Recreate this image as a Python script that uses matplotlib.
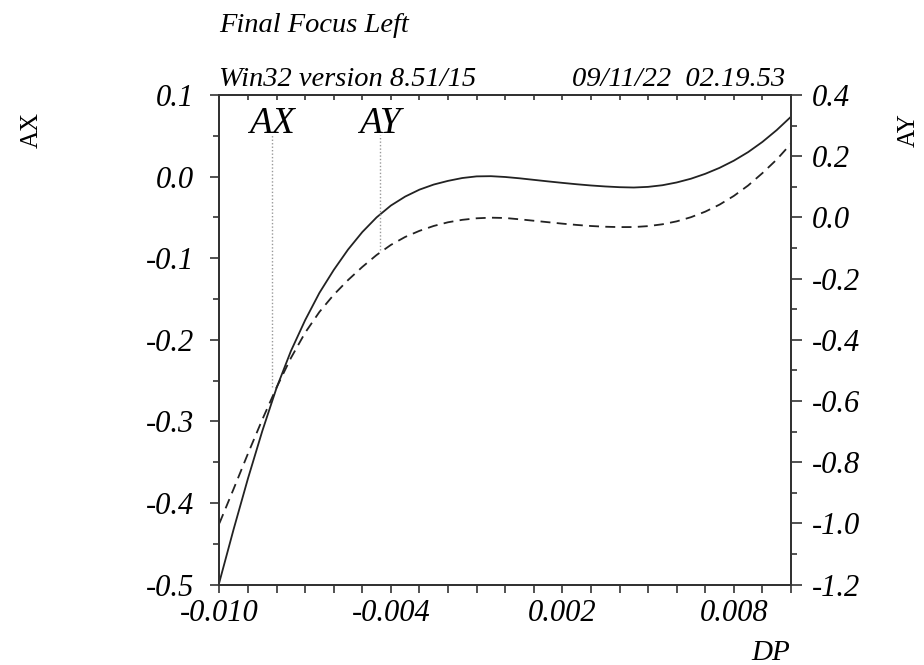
import numpy as np
import matplotlib
matplotlib.use("Agg")
import matplotlib.pyplot as plt
from matplotlib.ticker import FixedLocator, FixedFormatter
import matplotlib.transforms as mtransforms

plt.rcParams["font.family"] = ["Liberation Serif", "DejaVu Serif"]
plt.rcParams["axes.unicode_minus"] = False

# Momentum deviation grid
dp = [-0.0100, -0.0095, -0.0090, -0.0085, -0.0080, -0.0075, -0.0070, -0.0065,
      -0.0060, -0.0055, -0.0050, -0.0045, -0.0040, -0.0035, -0.0030, -0.0025,
      -0.0020, -0.0015, -0.0010, -0.0005, 0.0000, 0.0005, 0.0010, 0.0015,
      0.0020, 0.0025, 0.0030, 0.0035, 0.0040, 0.0045, 0.0050, 0.0055,
      0.0060, 0.0065, 0.0070, 0.0075, 0.0080, 0.0085, 0.0090, 0.0095, 0.0100]

# Horizontal alpha function (left axis)
ax_vals = [-0.497, -0.432, -0.370, -0.312, -0.259, -0.214, -0.176, -0.1425,
           -0.1145, -0.0895, -0.068, -0.050, -0.0355, -0.0245, -0.016, -0.00975,
           -0.00525, -0.00175, 0.00025, 0.0005, -0.0005, -0.0021, -0.0040, -0.0059,
           -0.0077, -0.0094, -0.0109, -0.0121, -0.0130, -0.0134, -0.0126, -0.0106,
           -0.0072, -0.0026, 0.0034, 0.0107, 0.0195, 0.0300, 0.0425, 0.0570, 0.0734]

# Vertical alpha function (right axis)
ay_vals = [-1.000, -0.887, -0.772, -0.661, -0.556, -0.460, -0.377, -0.309,
           -0.253, -0.205, -0.162, -0.123, -0.090, -0.064, -0.044, -0.028,
           -0.016, -0.008, -0.003, -0.001, -0.002, -0.0063, -0.0110, -0.0158,
           -0.0205, -0.0247, -0.0282, -0.0306, -0.0318, -0.0316, -0.0286, -0.0226,
           -0.013, 0.0006, 0.0187, 0.0417, 0.0701, 0.1042, 0.1447, 0.189, 0.241]

# Axis ticks and labels
x_ticks = [-0.010, -0.009, -0.008, -0.007, -0.006, -0.005, -0.004, -0.003,
           -0.002, -0.001, 0.000, 0.001, 0.002, 0.003, 0.004, 0.005,
           0.006, 0.007, 0.008, 0.009, 0.010]
x_labels = ["-0.010", "", "", "", "", "", "-0.004", "", "", "", "", "",
            "0.002", "", "", "", "", "", "0.008", "", ""]
left_ticks = [0.1, 0.0, -0.1, -0.2, -0.3, -0.4, -0.5]
left_labels = ["0.1", "0.0", "-0.1", "-0.2", "-0.3", "-0.4", "-0.5"]
left_minor = [0.05, -0.05, -0.15, -0.25, -0.35, -0.45]
right_ticks = [0.4, 0.2, 0.0, -0.2, -0.4, -0.6, -0.8, -1.0, -1.2]
right_labels = ["0.4", "0.2", "0.0", "-0.2", "-0.4", "-0.6", "-0.8", "-1.0", "-1.2"]
right_minor = [0.3, 0.1, -0.1, -0.3, -0.5, -0.7, -0.9, -1.1]

# Curve name markers: position in DP and the level where the marker meets its curve
marker_names = ["AX", "AY"]
marker_dp = [-0.00815, -0.00437]
marker_level = [-0.258, -0.107]

W, H = 924, 665
fig = plt.figure(figsize=(W / 100, H / 100), dpi=100)
L, R, T, B = 219.4, 791.0, 95.0, 584.5
ax = fig.add_axes([L / W, (H - B) / H, (R - L) / W, (B - T) / H])
ax2 = ax.twinx()

line_col = "#222222"
ax.plot(dp, ax_vals, color=line_col, lw=1.3, solid_joinstyle="round")
ax2.plot(dp, ay_vals, color=line_col, lw=1.3, dashes=(5.5, 3.5))

ax.set_xlim(-0.010, 0.010)
ax.set_ylim(-0.5, 0.1)
ax2.set_ylim(-1.2, 0.4)

for a in (ax, ax2):
    for s in a.spines.values():
        s.set_linewidth(1.4)
        s.set_color("#333333")

tick_font = dict(family="Liberation Serif", style="italic", size=22)

ax.xaxis.set_major_locator(FixedLocator(x_ticks))
ax.xaxis.set_major_formatter(FixedFormatter(x_labels))
ax.tick_params(axis="x", direction="out", length=5.5, width=1.2, pad=5,
               colors="#333333", labelcolor="black")
for t in ax.get_xticklabels():
    t.set_fontproperties(tick_font)

sec = ax.secondary_xaxis("top")
sec.xaxis.set_major_locator(FixedLocator(x_ticks))
sec.tick_params(axis="x", direction="in", length=3.6, width=1.2,
                labeltop=False, colors="#333333")
sec.spines["top"].set_linewidth(1.4)
sec.spines["top"].set_color("#333333")

ax.yaxis.set_major_locator(FixedLocator(left_ticks))
ax.yaxis.set_major_formatter(FixedFormatter(left_labels))
ax.yaxis.set_minor_locator(FixedLocator(left_minor))
ax.tick_params(axis="y", which="major", direction="out", length=6.5, width=1.2,
               pad=12, colors="#333333", labelcolor="black")
ax.tick_params(axis="y", which="minor", direction="out", length=4.3, width=1.2,
               colors="#333333")
for t in ax.get_yticklabels():
    t.set_fontproperties(tick_font)

ax2.yaxis.set_major_locator(FixedLocator(right_ticks))
ax2.yaxis.set_major_formatter(FixedFormatter(right_labels))
ax2.yaxis.set_minor_locator(FixedLocator(right_minor))
ax2.tick_params(axis="y", which="major", direction="out", length=8, width=1.2,
                pad=7, colors="#333333", labelcolor="black")
ax2.tick_params(axis="y", which="minor", direction="out", length=4.3, width=1.2,
                colors="#333333")
for t in ax2.get_yticklabels():
    t.set_fontproperties(tick_font)

# Curve name markers with dotted drop lines
blend = mtransforms.blended_transform_factory(ax.transData, ax.transAxes)
label_base = (B - 133) / (B - T)
line_top_ax = 0.1 - (135 - T) / (B - T) * 0.6
line_top_ay = 0.4 - (135 - T) / (B - T) * 1.6
ax.plot([marker_dp[0], marker_dp[0]], [marker_level[0], line_top_ax],
        color="#999999", lw=1.0, ls=(0, (1, 1.5)))
ax2.plot([marker_dp[1], marker_dp[1]], [marker_level[1], line_top_ay],
         color="#999999", lw=1.0, ls=(0, (1, 1.5)))
for name, x in zip(marker_names, marker_dp):
    ax.text(x, label_base, name, transform=blend, ha="center", va="baseline",
            family="Liberation Serif", style="italic", size=27)

# Header texts
head = dict(family="Liberation Serif", style="italic", size=20.5, va="baseline")
fig.text(L / W, 1 - 31.7 / H, "Final Focus Left", ha="left", **head)
fig.text(L / W, 1 - 86 / H, "Win32 version 8.51/15", ha="left", **head)
fig.text(785 / W, 1 - 86 / H, "09/11/22  02.19.53", ha="right", **head)

# Axis names
fig.text(32 / W, 1 - 130 / H, "AX", rotation=90, ha="center", va="center",
         family="Liberation Serif", size=18)
fig.text(909 / W, 1 - 130 / H, "AY", rotation=90, ha="center", va="center",
         family="Liberation Serif", size=18)
fig.text(790 / W, 1 - 660 / H, "DP", ha="right", va="baseline",
         family="Liberation Serif", style="italic", size=21)

fig.savefig("out.png", dpi=100, facecolor="white")
